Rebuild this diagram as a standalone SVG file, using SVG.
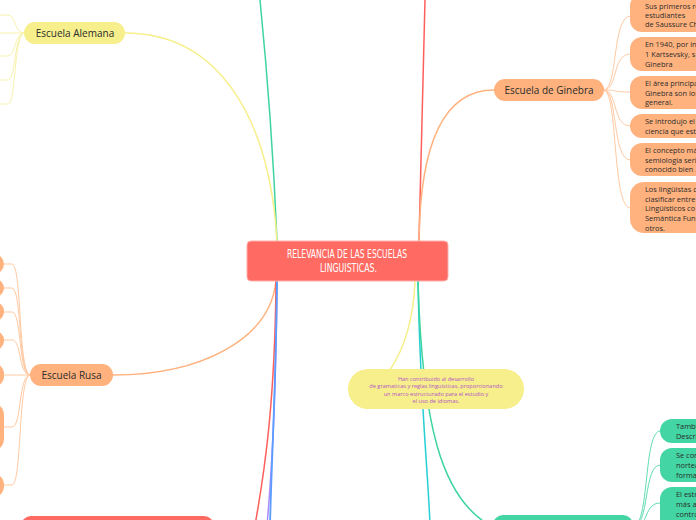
<svg xmlns="http://www.w3.org/2000/svg" width="696" height="520" viewBox="0 0 696 520">
<style>
.c{fill:none;stroke-linecap:round}
.or{stroke:#ffb27e;stroke-width:1.5}
.orl{stroke:#ffc9a2;stroke-width:1}
.ye{stroke:#f6ef8b;stroke-width:1.5}
.yel{stroke:#f8f2ad;stroke-width:1}
.gr{stroke:#3ed49f;stroke-width:1.5}
.grl{stroke:#5fdcb0;stroke-width:1}
.rd{stroke:#ff5f5a;stroke-width:1.5}
.bl{stroke:#5a9cff;stroke-width:1.8}
.pu{stroke:#a98cff;stroke-width:1.5}
.cy{stroke:#25cfd4;stroke-width:1.5}
.on{fill:#ffb27e}
.yn{fill:#f6ef8b}
.gn{fill:#43d6a4}
.rn{fill:#ff6a62}
.t{font-family:"Open Sans","Noto Sans","DejaVu Sans",sans-serif;fill:#2b2b2b}
.m{font-size:10px;text-anchor:middle}
.s{font-size:7.4px}
.n{font-family:"Open Sans","Noto Sans",sans-serif;font-size:5.6px;fill:#b456c8;text-anchor:middle}
.h{font-family:"DejaVu Sans Condensed","DejaVu Sans",sans-serif;font-stretch:condensed;font-size:11.5px;fill:#ffffff;text-anchor:middle}
</style>
<g id="connectors">
<path class="c gr" d="M260 0 Q272 120 277 241"/>
<path class="c rd" d="M425 0 L419 241"/>
<path class="c ye" d="M125 33 C220 33 270 120 277 241"/>
<path class="c or" d="M419 241 C420 150 440 90 494 90"/>
<path class="c or" d="M276 281 C270 340 200 375 113 375"/>
<path class="c rd" d="M276 281 C275 400 265 470 255 525"/>
<path class="c pu" d="M277 281 C276 400 272 470 267 525"/>
<path class="c bl" d="M277 281 C276 380 272 450 270 525"/>
<path class="c ye" d="M415 281 C413 330 400 355 390 370"/>
<path class="c cy" d="M418 281 C420 400 428 470 430 525"/>
<path class="c gr" d="M418 281 C422 420 440 500 493 527"/>
<g class="c yel">
<path d="M24 33 C14 33 16 15 8 15 H0"/>
<path d="M24 33 H0"/>
<path d="M24 33 C14 33 16 56 8 56 H0"/>
<path d="M24 33 C14 33 16 80 8 80 H0"/>
<path d="M24 33 C14 33 16 104 8 104 H0"/>
</g>
<g class="c orl">
<path d="M30 375 C18 375 22 264 12 264 H4"/>
<path d="M30 375 C18 375 22 288 12 288 H4"/>
<path d="M30 375 C18 375 22 312 12 312 H4"/>
<path d="M30 375 C18 375 22 340 12 340 H4"/>
<path d="M30 375 H4"/>
<path d="M30 375 C18 375 22 427 12 427 H4"/>
<path d="M30 375 C18 375 22 485 12 485 H4"/>
</g>
<g class="c orl">
<path d="M604 90 C618 90 612 16 630 16"/>
<path d="M604 90 C618 90 612 54 630 54"/>
<path d="M604 90 C618 90 612 92 630 92"/>
<path d="M604 90 C618 90 612 126 630 126"/>
<path d="M604 90 C618 90 612 160 630 160"/>
<path d="M604 90 C618 90 612 208 630 208"/>
</g>
<g class="c grl">
<path d="M633 527 C650 527 643 431 660 431"/>
<path d="M633 527 C650 527 643 465 660 465"/>
<path d="M633 527 C650 527 643 503 660 503"/>
</g>
</g>
<g id="center">
<rect x="247" y="241" width="201" height="40" rx="4" class="rn" stroke="#ffb0ab" stroke-width="1"/>
<text class="h" x="347" y="258" textLength="120" lengthAdjust="spacingAndGlyphs">RELEVANCIA DE LAS ESCUELAS</text>
<text class="h" x="348.5" y="272" textLength="57" lengthAdjust="spacingAndGlyphs">LINGUISTICAS.</text>
</g>
<g id="alemana">
<rect x="24" y="22" width="101" height="22" rx="11" class="yn"/>
<text class="t m" x="75" y="36.5">Escuela Alemana</text>
</g>
<g id="ginebra">
<rect x="494" y="79" width="110" height="22" rx="11" class="on"/>
<text class="t m" x="549" y="93.5">Escuela de Ginebra</text>
</g>
<g id="ginebra-1">
<rect x="630" y="-6" width="90" height="38" rx="12" class="on"/>
<text class="t s" x="645" y="8.5">Sus primeros re</text>
<text class="t s" x="645" y="17.5">estudiantes</text>
<text class="t s" x="645" y="27">de Saussure Ch</text>
</g>
<g id="ginebra-2">
<rect x="630" y="37" width="90" height="34" rx="12" class="on"/>
<text class="t s" x="645" y="47">En 1940, por in</text>
<text class="t s" x="645" y="57"> 1 Kartsevsky, s</text>
<text class="t s" x="645" y="66.5">Ginebra</text>
</g>
<g id="ginebra-3">
<rect x="630" y="76" width="90" height="33" rx="12" class="on"/>
<text class="t s" x="645" y="86">El área principa</text>
<text class="t s" x="645" y="95.5">Ginebra son los</text>
<text class="t s" x="645" y="105">general.</text>
</g>
<g id="ginebra-4">
<rect x="630" y="114" width="90" height="24" rx="12" class="on"/>
<text class="t s" x="645" y="124">Se introdujo el</text>
<text class="t s" x="645" y="133.5">ciencia que est</text>
</g>
<g id="ginebra-5">
<rect x="630" y="143" width="90" height="33" rx="12" class="on"/>
<text class="t s" x="645" y="153">El concepto má</text>
<text class="t s" x="645" y="162.5">semiología seri</text>
<text class="t s" x="645" y="172">conocido bien ...</text>
</g>
<g id="ginebra-6">
<rect x="630" y="182" width="90" height="51" rx="14" class="on"/>
<text class="t s" x="645" y="192">Los lingüistas c</text>
<text class="t s" x="645" y="201.5">clasificar entre</text>
<text class="t s" x="645" y="211">Lingüísticos co</text>
<text class="t s" x="645" y="220.5">Semántica Fun</text>
<text class="t s" x="645" y="230.5">otros.</text>
</g>
<g id="rusa">
<rect x="30" y="364" width="83" height="22" rx="11" class="on"/>
<text class="t m" x="71.5" y="378.5">Escuela Rusa</text>
</g>
<g id="rusa-1"><rect x="-40" y="254" width="44" height="20" rx="10" class="on"/></g>
<g id="rusa-2"><rect x="-40" y="279" width="44" height="18" rx="9" class="on"/></g>
<g id="rusa-3"><rect x="-40" y="302" width="44" height="19" rx="9" class="on"/></g>
<g id="rusa-4"><rect x="-40" y="331" width="44" height="19" rx="9" class="on"/></g>
<g id="rusa-5"><rect x="-40" y="363" width="44" height="24" rx="11" class="on"/></g>
<g id="rusa-6"><rect x="-40" y="403" width="44" height="48" rx="12" class="on"/></g>
<g id="rusa-7"><rect x="-40" y="473" width="44" height="25" rx="12" class="on"/></g>
<g id="note">
<rect x="348" y="369" width="176" height="40" rx="20" class="yn"/>
<text class="n" x="436" y="380.5">Han contribuido al desarrollo</text>
<text class="n" x="436" y="388">de gramaticas y reglas linguisticas, proporcionando</text>
<text class="n" x="436" y="395.5">un marco estructurado para el estudio y</text>
<text class="n" x="436" y="403">el uso de idiomas.</text>
</g>
<g id="bottom-red">
<rect x="21" y="516" width="193" height="30" rx="10" class="rn"/>
</g>
<g id="bottom-green">
<rect x="493" y="515" width="140" height="30" rx="10" class="gn"/>
</g>
<g id="green-1">
<rect x="660" y="419" width="60" height="24" rx="12" class="gn"/>
<text class="t s" x="676" y="429">Tambi</text>
<text class="t s" x="676" y="439">Descri</text>
</g>
<g id="green-2">
<rect x="660" y="448" width="60" height="34" rx="12" class="gn"/>
<text class="t s" x="676" y="458">Se con</text>
<text class="t s" x="676" y="468">nortea</text>
<text class="t s" x="676" y="478">forma</text>
</g>
<g id="green-3">
<rect x="660" y="487" width="60" height="45" rx="12" class="gn"/>
<text class="t s" x="676" y="496.5">El estr</text>
<text class="t s" x="676" y="507">más a</text>
<text class="t s" x="676" y="517">contra</text>
</g>
</svg>
